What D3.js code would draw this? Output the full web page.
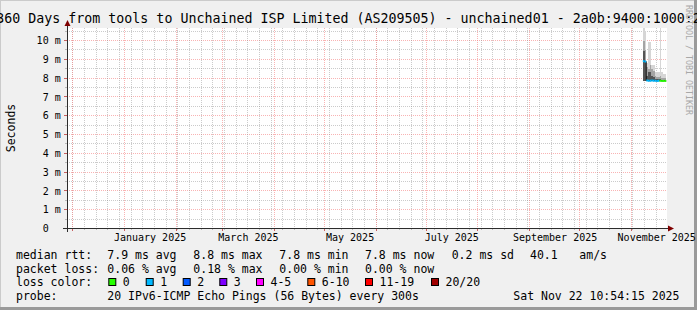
<!DOCTYPE html>
<html><head><meta charset="utf-8">
<script src="https://cdn.jsdelivr.net/npm/d3@7"></script>
<style>
html,body{margin:0;padding:0;background:#f0f0f0;}
svg{display:block;}
text{font-family:"DejaVu Sans Mono",monospace;fill:#000;}
</style></head><body>
<svg id="c" width="697" height="310"></svg>
<script>
// ---------- data ----------
const title = "360 Days from tools to Unchained ISP Limited (AS209505) - unchained01 - 2a0b:9400:1000:2";
const yAxisTitle = "Seconds";
const watermark = "RRDTOOL / TOBI OETIKER";
const endTime = "2025-11-22T10:54:15Z";
const spanDays = 360;
const yTicks = [0,1,2,3,4,5,6,7,8,9,10];
const monthLabelStarts = ["2025-01-01","2025-03-01","2025-05-01","2025-07-01","2025-09-01","2025-11-01"];

const days      = ["2025-11-08","2025-11-09","2025-11-10","2025-11-11","2025-11-12","2025-11-13","2025-11-14",
                   "2025-11-15","2025-11-16","2025-11-17","2025-11-18","2025-11-19","2025-11-20","2025-11-21"];
const median    = [8.90, 8.88, 7.87, 7.86, 7.86, 7.87, 7.86, 7.86, 7.85, 7.86, 7.86, 7.85, 7.85, 7.85];
const lossPings = [1, 1, 1, 1, 1, 1, 1, 1, 1, 1, 0, 0, 0, 0];
const smokeMin  = [7.85, 7.85, 7.84, 7.84, 7.84, 7.84, 7.84, 7.83, 7.83, 7.83, 7.83, 7.83, 7.83, 7.83];
const smokeMax  = [11.0, 10.5, 8.80, 9.90, 9.90, 8.70, 8.70, 8.30, 8.30, 8.30, 10.7, 8.30, 8.20, 8.20];
const smokeMid  = [10.0, 9.50, 8.60, 8.50, 8.70, 8.50, 8.40, 8.10, 8.05, 8.05, 8.10, 8.00, 8.00, 8.00];
const smokeCore = [9.45, 8.90, 8.10, 8.30, 8.30, 8.10, 8.05, 7.95, 7.95, 7.95, 7.95, 7.92, 7.92, 7.92];

const lossClasses = ["0","1","2","3","4-5","6-10","11-19","20/20"];
const lossColors  = ["#26ff00","#00b8ff","#0059ff","#7e00ff","#ff00ff","#ff5500","#ff0000","#a00000"];

const rttLabel = "median rtt:";
const rttItems = ["7.9 ms avg","8.8 ms max","7.8 ms min","7.8 ms now","0.2 ms sd","40.1","am/s"];
const lossLabel = "packet loss:";
const lossItems = ["0.06 % avg","0.18 % max","0.00 % min","0.00 % now"];
const colorLabel = "loss color:";
const probeLabel = "probe:";
const probeText = "20 IPv6-ICMP Echo Pings (56 Bytes) every 300s";
const stamp = "Sat Nov 22 10:54:15 2025";

// ---------- layout ----------
const W = 697, H = 310;
const X0 = 67, X1 = 667, YTOP = 28, YBOT = 228;
const svg = d3.select("#c");

const end = new Date(endTime);
const start = d3.utcDay.offset(end, -spanDays);
const x = d3.scaleUtc().domain([start, end]).range([X0, X1]);
const y = d3.scaleLinear().domain([0, 10]).range([YBOT + 0.5, 40.5]);

// background + frame
svg.append("rect").attr("width", W).attr("height", H).attr("fill", "#f0f0f0");
svg.append("rect").attr("x",0).attr("y",0).attr("width",W).attr("height",1).attr("fill","#cbcbcb");
svg.append("rect").attr("x",0).attr("y",0).attr("width",1).attr("height",H).attr("fill","#cbcbcb");
svg.append("rect").attr("x",W-3).attr("y",0).attr("width",3).attr("height",H).attr("fill","#9a9a9a");
svg.append("rect").attr("x",0).attr("y",H-3).attr("width",W).attr("height",3).attr("fill","#9a9a9a");

// canvas
svg.append("rect").attr("x", X0).attr("y", YTOP).attr("width", X1 - X0).attr("height", YBOT - YTOP).attr("fill", "#fff");

const grid = svg.append("g");
const minorCol = "rgba(140,140,140,0.45)";
const majorCol = "rgba(245,128,128,0.6)";

// horizontal grid
const yMinor = d3.range(0.5, 10.6, 0.5).filter(v => Math.abs(v - Math.round(v)) > 0.01);
yMinor.forEach(v => {
  const py = Math.round(y(v) - 0.5) + 0.5;
  grid.append("line").attr("x1", X0).attr("x2", X1).attr("y1", py).attr("y2", py)
    .attr("stroke", minorCol).attr("stroke-dasharray", "1,1");
  grid.append("line").attr("x1", X0 - 2).attr("x2", X0).attr("y1", py).attr("y2", py).attr("stroke", "#bbb");
});
yTicks.filter(v => v > 0).forEach(v => {
  const py = Math.round(y(v) - 0.5) + 0.5;
  grid.append("line").attr("x1", X0).attr("x2", X1).attr("y1", py).attr("y2", py)
    .attr("stroke", majorCol).attr("stroke-dasharray", "1,1");
  grid.append("line").attr("x1", X0 - 3).attr("x2", X0).attr("y1", py).attr("y2", py).attr("stroke", "#c86060");
});

// vertical grid
d3.utcSunday.range(start, end).forEach(d => {
  const px = Math.floor(x(d)) + 0.5;
  grid.append("line").attr("x1", px).attr("x2", px).attr("y1", YTOP).attr("y2", YBOT)
    .attr("stroke", minorCol).attr("stroke-dasharray", "1,1");
  grid.append("line").attr("x1", px).attr("x2", px).attr("y1", YBOT).attr("y2", YBOT + 2).attr("stroke", "#bbb");
});
d3.utcMonth.range(start, end).forEach(d => {
  const px = Math.floor(x(d)) + 0.5;
  grid.append("line").attr("x1", px).attr("x2", px).attr("y1", YTOP).attr("y2", YBOT)
    .attr("stroke", majorCol).attr("stroke-dasharray", "1,1");
  grid.append("line").attr("x1", px).attr("x2", px).attr("y1", YBOT).attr("y2", YBOT + 3).attr("stroke", "#c86060");
});

// clip
svg.append("clipPath").attr("id", "clip").append("rect")
  .attr("x", X0).attr("y", YTOP).attr("width", X1 - X0).attr("height", YBOT - YTOP);
const plot = svg.append("g").attr("clip-path", "url(#clip)");

const rows = days.map((d, i) => {
  const t0 = new Date(d + "T00:00:00Z");
  return {t0, t1: d3.utcDay.offset(t0, 1), med: median[i], loss: lossPings[i],
          lo: smokeMin[i], hi: smokeMax[i], mid: smokeMid[i], core: smokeCore[i]};
});

function band(key, color) {
  plot.append("g").selectAll("rect").data(rows).join("rect")
    .attr("x", r => x(r.t0)).attr("width", r => x(r.t1) - x(r.t0))
    .attr("y", r => y(r[key])).attr("height", r => y(r.lo) - y(r[key]))
    .attr("fill", color).attr("shape-rendering", "crispEdges");
}
band("hi", "#d6d6d6");
band("mid", "#a4a4a4");
band("core", "#555555");

// median connector
const pts = rows.map(r => [x(r.t0), y(r.med)]);
pts.push([x(rows[rows.length - 1].t1), y(rows[rows.length - 1].med)]);
plot.append("path").attr("d", d3.line().curve(d3.curveStepAfter)(pts))
  .attr("fill", "none").attr("stroke", "#111").attr("stroke-width", 1);
// median coloured by loss
plot.append("g").selectAll("line").data(rows).join("line")
  .attr("x1", r => x(r.t0)).attr("x2", r => x(r.t1))
  .attr("y1", r => y(r.med)).attr("y2", r => y(r.med))
  .attr("stroke", r => lossColors[r.loss]).attr("stroke-width", 2);

// axes lines
const axisCol = "#2c2c2c";
svg.append("line").attr("x1", X0 - 4).attr("x2", X1 + 4).attr("y1", YBOT + 0.5).attr("y2", YBOT + 0.5).attr("stroke", axisCol);
svg.append("line").attr("x1", X0 + 0.5).attr("x2", X0 + 0.5).attr("y1", YBOT + 4).attr("y2", YTOP - 3).attr("stroke", axisCol);
svg.append("path").attr("d", `M${X1+1},${YBOT-2.5} L${X1+7},${YBOT+0.5} L${X1+1},${YBOT+3.5} Z`).attr("fill", "#7f0000");
svg.append("path").attr("d", `M${X0-2.5},${YTOP-2} L${X0+0.5},${YTOP-8} L${X0+3.5},${YTOP-2} Z`).attr("fill", "#7f0000");

// y axis labels
const yAxis = d3.axisLeft(y).tickValues(yTicks).tickSizeInner(0).tickSizeOuter(0).tickPadding(6.8)
  .tickFormat(v => v === 0 ? "0\u00a0\u00a0" : v + " m");
const ya = svg.append("g").attr("transform", `translate(${X0 + 0.5},0)`).call(yAxis);
ya.select(".domain").remove();
ya.selectAll("text").attr("font-family", "DejaVu Sans Mono").attr("font-size", 10).attr("fill", "#000").style("white-space", "pre");

// x axis labels (centred within month, as rrdtool does)
const xAxis = d3.axisBottom(x)
  .tickValues(monthLabelStarts.map(s => d3.utcDay.offset(new Date(s + "T00:00:00Z"), 15)))
  .tickSizeInner(0).tickSizeOuter(0).tickPadding(6.2)
  .tickFormat(d3.utcFormat("%B %Y"));
const xa = svg.append("g").attr("transform", `translate(0,${YBOT})`).call(xAxis);
xa.select(".domain").remove();
xa.selectAll("text").attr("font-family", "DejaVu Sans Mono").attr("font-size", 10).attr("fill", "#000");

// title
svg.append("text").attr("x", 348.5).attr("y", 23).attr("text-anchor", "middle")
  .attr("font-size", 13.3).text(title);

// y title
svg.append("text").attr("transform", "translate(15,128) rotate(-90)").attr("text-anchor", "middle")
  .attr("font-size", 11.5).text(yAxisTitle);

// watermark
svg.append("text").attr("transform", "translate(685.5,5) rotate(90)").attr("font-size", 8.3)
  .style("fill", "#a8a8a8").text(watermark);

// legend
const LF = 11.5;
const rowY = [258.5, 272.5, 286.3, 300];
const colX = [107.3, 193.3, 279.3, 365, 451.7, 530, 579.3];
function txt(xp, yp, s) {
  svg.append("text").attr("x", xp).attr("y", yp).attr("font-size", LF).style("white-space", "pre").text(s);
}
txt(16, rowY[0], rttLabel);
rttItems.forEach((s, i) => txt(colX[i], rowY[0], s));
txt(16, rowY[1], lossLabel);
lossItems.forEach((s, i) => txt(colX[i], rowY[1], s));
txt(16, rowY[2], colorLabel);
const boxX = [108.3, 145.7, 182.7, 219.3, 256, 307.3, 365, 431];
lossClasses.forEach((c, i) => {
  svg.append("rect").attr("x", boxX[i] + 0.5).attr("y", 278.5).attr("width", 7).attr("height", 7)
    .attr("fill", lossColors[i]).attr("stroke", "#000").attr("stroke-width", 1);
  txt(boxX[i] + 14.5, rowY[2], c);
});
txt(16, rowY[3], probeLabel);
txt(107.3, rowY[3], probeText);
txt(513.3, rowY[3], stamp);
</script>
</body></html>
